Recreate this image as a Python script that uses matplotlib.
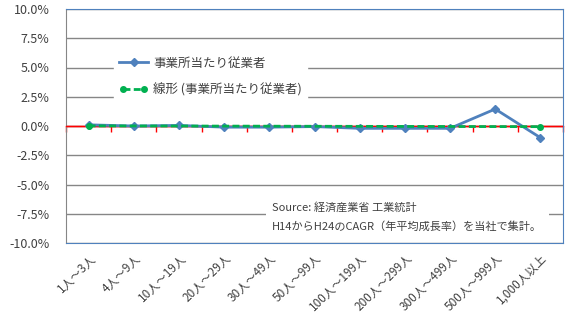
import numpy as np
import matplotlib.pyplot as plt
from matplotlib.legend_handler import HandlerLine2D
from matplotlib.ticker import FuncFormatter

plt.rcParams['font.family'] = ['Noto Sans CJK JP', 'DejaVu Sans']

# 事業所規模区分
categories = ['1人～3人', '4人～9人', '10人～19人', '20人～29人', '30人～49人',
              '50人～99人', '100人～199人', '200人～299人', '300人～499人',
              '500人～999人', '1,000人以上']
# 事業所当たり従業者 CAGR (%)
cagr = [0.1, 0.0, 0.05, -0.1, -0.1, -0.05, -0.2, -0.2, -0.2, 1.45, -1.0]

x = np.arange(len(categories))
coef = np.polyfit(x, cagr, 1)
trend = np.polyval(coef, x)

blue = '#4F81BD'
green = '#00B050'
grid = '#868686'
txt = '#404040'

fig = plt.figure(figsize=(5.88, 3.29), dpi=100)
ax = fig.add_axes([66 / 588, 86 / 329, 497 / 588, 234 / 329])

ax.set_xlim(-0.5, len(categories) - 0.5)
ax.set_ylim(-10, 10)
ax.set_yticks(np.arange(-10, 10.1, 2.5))
ax.yaxis.set_major_formatter(FuncFormatter(lambda v, p: f'{v:.1f}%'))
ax.grid(axis='y', color=grid, linewidth=1)
ax.set_axisbelow(True)

l1, = ax.plot(x, cagr, color=blue, lw=2, marker='D', ms=4.5, label='事業所当たり従業者', zorder=4)
l2, = ax.plot(x, trend, color=green, lw=2, ls=(0, (2.5, 1.2)), marker='o', ms=4,
              markevery=[0, len(x) - 1], label='線形 (事業所当たり従業者)', zorder=5)

# 0% の横軸（赤）
sec = ax.secondary_xaxis(0.5)
sec.set_xticks(np.arange(-0.5, len(categories), 1.0))
sec.set_xticklabels([])
sec.tick_params(axis='x', direction='in', color='red', length=4, width=1)
sec.spines['bottom'].set_visible(False)
sec.spines['top'].set_color('red')
sec.spines['top'].set_linewidth(1)
ax.axhline(0, color='red', lw=1, zorder=3)

ax.set_xticks(x)
ax.set_xticklabels(categories, rotation=45, ha='right', rotation_mode='anchor',
                   fontsize=8.5, color=txt)
ax.tick_params(axis='x', length=0, pad=6)
ax.tick_params(axis='y', length=0, pad=12, labelsize=9, labelcolor=txt)

for s in ['top', 'right', 'bottom']:
    ax.spines[s].set_color(blue)
ax.spines['left'].set_color(grid)

leg = ax.legend(handles=[l1, l2], loc='upper left', bbox_to_anchor=(0.085, 0.845),
                frameon=True, fancybox=False, edgecolor='white', facecolor='white',
                framealpha=1, fontsize=9, labelspacing=1.1, handlelength=2.3,
                handletextpad=0.4, borderpad=0.4, numpoints=1,
                handler_map={l2: HandlerLine2D(numpoints=2)})
for t in leg.get_texts():
    t.set_color(txt)

ax.text(0.415, 0.11, 'Source: 経済産業省 工業統計\nH14からH24のCAGR（年平均成長率）を当社で集計。',
        transform=ax.transAxes, fontsize=8, color=txt, va='center', ha='left',
        linespacing=2.0, zorder=6,
        bbox=dict(boxstyle='square,pad=0.6', facecolor='white', edgecolor='none'))

fig.savefig('out.png', dpi=100)
